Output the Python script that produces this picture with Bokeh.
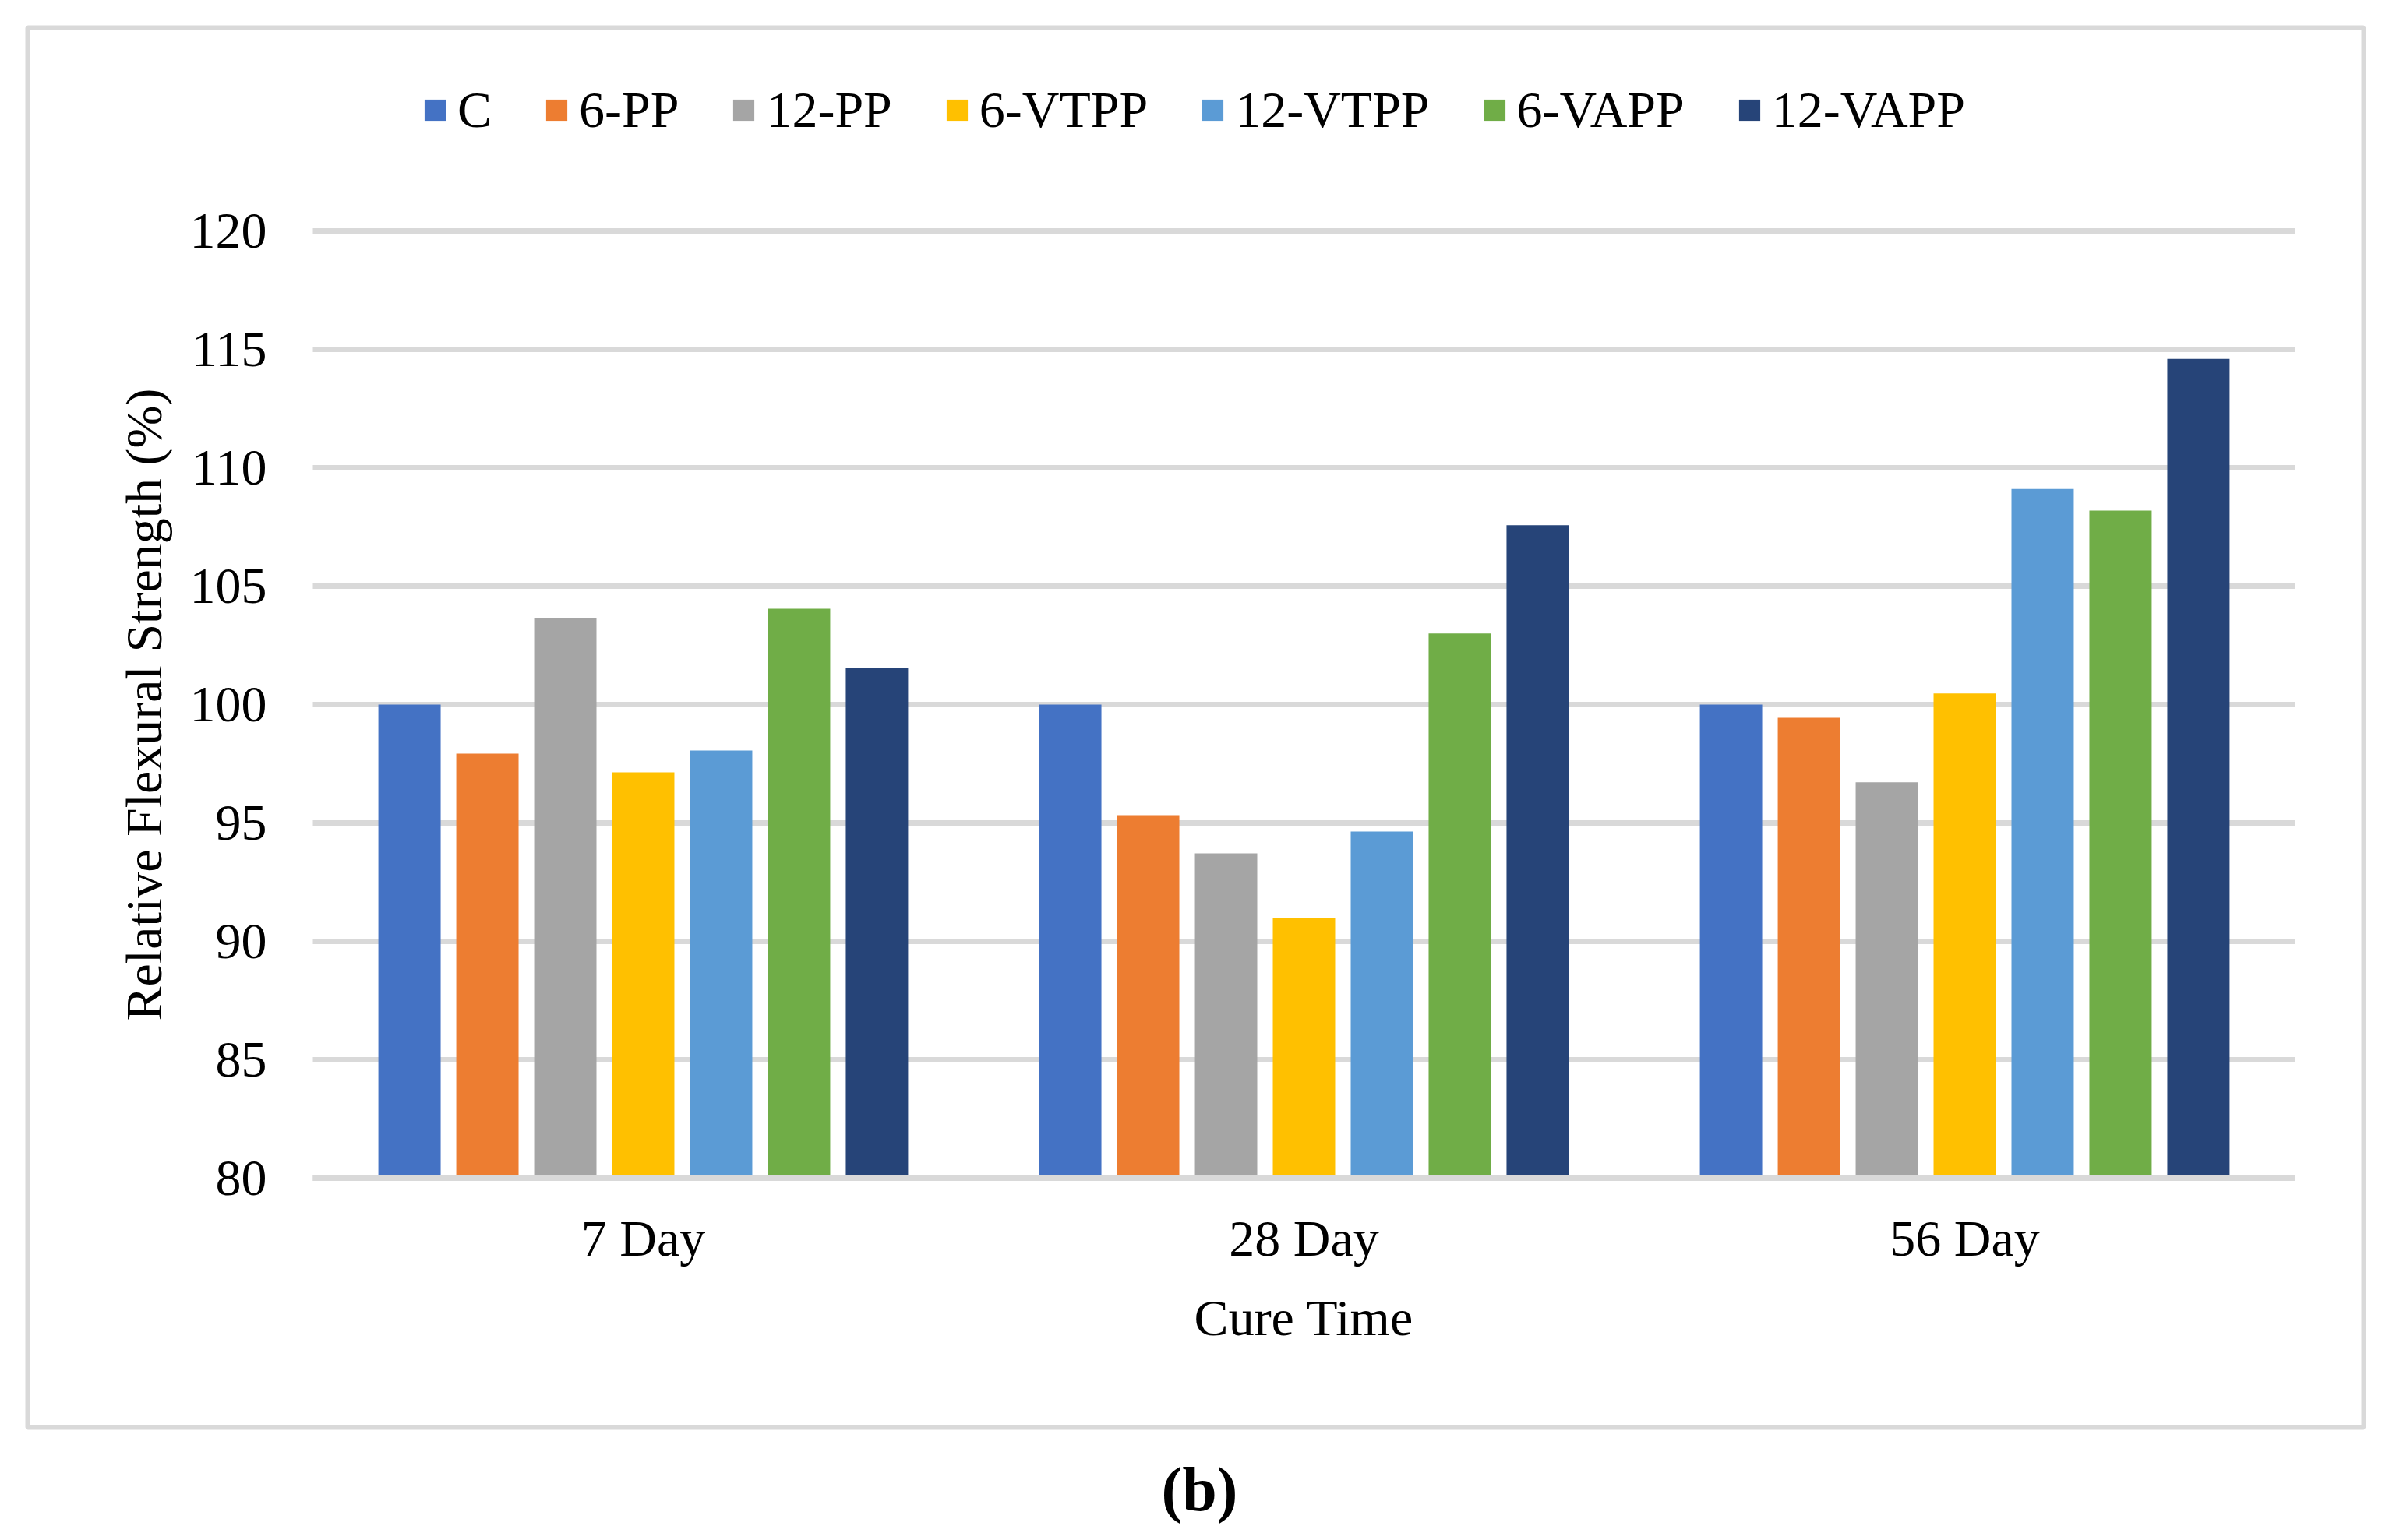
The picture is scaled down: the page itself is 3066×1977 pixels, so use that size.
from bokeh.plotting import figure
from bokeh.models import Range1d, LinearAxis, Grid, Label, BoxAnnotation, FixedTicker, ColumnDataSource
from bokeh.transform import dodge
from bokeh.embed import file_html
from bokeh.resources import INLINE

# ---- data ----
categories = ["7 Day", "28 Day", "56 Day"]
series = ["C", "6-PP", "12-PP", "6-VTPP", "12-VTPP", "6-VAPP", "12-VAPP"]
C = [100.0, 100.0, 100.0]
PP6 = [97.93, 95.33, 99.44]
PP12 = [103.65, 93.72, 96.72]
VTPP6 = [97.14, 91.00, 100.47]
VTPP12 = [98.06, 94.64, 109.10]
VAPP6 = [104.05, 103.00, 108.19]
VAPP12 = [101.55, 107.57, 114.60]
y_ticks = [80, 85, 90, 95, 100, 105, 110, 115, 120]
colors = ["#4472C4", "#ED7D31", "#A5A5A5", "#FFC000", "#5B9BD5", "#70AD47", "#264478"]

values = [C, PP6, PP12, VTPP6, VTPP12, VAPP6, VAPP12]
cat_pos = [i + 0.5 for i in range(len(categories))]
data = {"xc": cat_pos}
for name, vals in zip(series, values):
    data[name] = vals
source = ColumnDataSource(data)

FONT = "Liberation Serif"
FS = "66px"

# frame covers nearly the whole page; plot area (0..3, 80..120) sits inside it
PX_X = 848.0   # px per category
PX_Y = 30.4    # px per percent
x_range = Range1d(-372 / PX_X, 3 + 92 / PX_X)
y_range = Range1d(80 - 465 / PX_Y, 120 + 267 / PX_Y)

p = figure(x_range=x_range, y_range=y_range, width=3066, height=1977,
           output_backend="svg", toolbar_location=None,
           x_axis_location=None, y_axis_location=None,
           min_border_left=29, min_border_right=29, min_border_top=29, min_border_bottom=0)
p.outline_line_color = None
p.background_fill_color = "white"
p.border_fill_color = "white"
for g in p.grid:
    g.visible = False

# outer grey box (chart area border)
box = BoxAnnotation(left=6, right=3004, top=1942, bottom=145,
                    left_units="screen", right_units="screen", top_units="screen", bottom_units="screen",
                    fill_color=None, fill_alpha=0, line_color="#d9d9d9", line_alpha=1.0,
                    line_width=6, level="underlay")
p.add_layout(box)

# horizontal grid limited to plot area
grid = Grid(dimension=1, ticker=FixedTicker(ticks=y_ticks), bounds=(80, 120), cross_bounds=(0, 3),
            grid_line_color="#d9d9d9", grid_line_width=7)
p.add_layout(grid)

step = 0.1179
bw = 0.0943
for i, (name, col) in enumerate(zip(series, colors)):
    p.vbar(x=dodge("xc", (i - 3) * step), top=name, bottom=80,
           width=bw, source=source, color=col, line_color=None, legend_label=name)

# y axis at x = 0
yax = LinearAxis(fixed_location=0, bounds=(80, 120), ticker=FixedTicker(ticks=y_ticks),
                 axis_label="Relative Flexural Strength (%)")
yax.axis_line_color = None
yax.major_tick_line_color = None
yax.minor_tick_line_color = None
yax.major_tick_out = 0
yax.major_label_standoff = 59
yax.axis_label_standoff = 20
p.add_layout(yax, "left")

# x axis at y = 80
xax = LinearAxis(fixed_location=80, bounds=(0, 3), ticker=FixedTicker(ticks=cat_pos),
                 axis_label="Cure Time")
xax.major_label_overrides = {pos: lab for pos, lab in zip(cat_pos, categories)}
xax.axis_line_color = "#d9d9d9"
xax.axis_line_width = 7
xax.major_tick_line_color = None
xax.minor_tick_line_color = None
xax.major_tick_out = 0
xax.major_label_standoff = 40
xax.axis_label_standoff = 26
p.add_layout(xax, "below")

for ax in (xax, yax):
    ax.major_label_text_font = FONT
    ax.major_label_text_font_size = FS
    ax.major_label_text_color = "black"
    ax.axis_label_text_font = FONT
    ax.axis_label_text_font_size = FS
    ax.axis_label_text_font_style = "normal"
    ax.axis_label_text_color = "black"

# legend
lg = p.legend[0]
lg.orientation = "horizontal"
lg.location = (512, 1798)
lg.glyph_width = 34
lg.glyph_height = 34
lg.label_standoff = 12
lg.spacing = 66
lg.padding = 0
lg.margin = 0
lg.border_line_color = None
lg.background_fill_alpha = 0
lg.label_text_font = FONT
lg.label_text_font_size = FS
lg.label_text_color = "black"

# panel label below the box
lab = Label(x=1510, y=66, x_units="screen", y_units="screen", text="(b)",
            text_font=FONT, text_font_size="80px", text_font_style="bold",
            text_align="center", text_baseline="middle", text_color="black")
p.add_layout(lab)

open("out.html", "w").write(file_html(p, INLINE))
